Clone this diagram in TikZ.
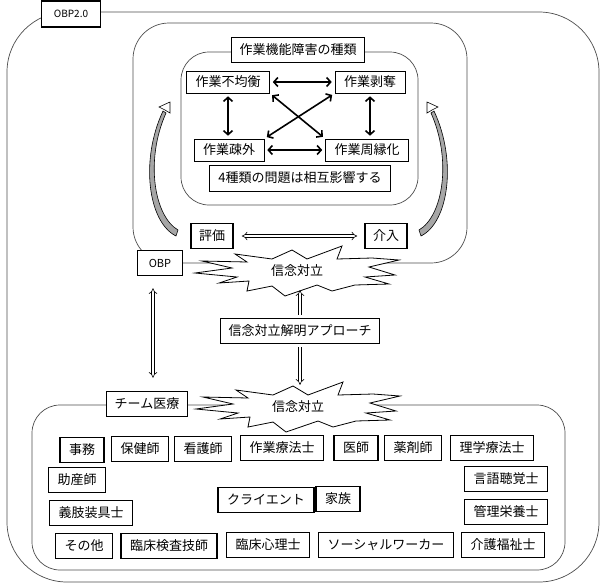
\documentclass[tikz,border=0pt]{standalone}
\usepackage{fontspec}
\newfontfamily\jp{Noto Sans CJK JP}
\usetikzlibrary{arrows.meta}
\newcommand{\burstpath}{(-102,2) -- (-65,-3) -- (-95,-10) -- (-50,-9) -- (-62,-17) -- (-25,-12)
  -- (-5,-21) -- (10,-12) -- (45,-25) -- (40,-12) -- (75,-13) -- (102,-11) -- (72,-4)
  -- (98,4) -- (68,6) -- (92,13) -- (58,14) -- (35,20) -- (20,14) -- (-12,25) -- (-25,15)
  -- (-50,20) -- (-48,10) -- (-78,12) -- (-60,6) -- cycle}
\newcommand{\swirlarrow}[1]{%
  \draw[swirl,#1] (176,236) .. controls (148,222) and (140,160) .. (163,111)
    -- (166,113) .. controls (145,160) and (154,216) .. (178,230) -- cycle;
  \draw[line width=0.6pt, fill=white, #1] (170,102) -- (170,113) -- (165,110) -- (159,107) -- cycle;}

\begin{document}
\begin{tikzpicture}[x=1pt,y=-1pt,
  every node/.style={font=\jp\fontsize{13}{15}\selectfont},
  panel/.style={draw=black!70, line width=0.7pt, rounded corners=#1},
  tag/.style={draw, line width=1.6pt, fill=white, inner xsep=8pt, minimum height=25pt},
  kind/.style={draw, line width=0.6pt, fill=white, inner xsep=9pt, minimum height=22pt},
  member/.style={draw, line width=1.6pt, fill=white, inner xsep=9pt, minimum height=25pt},
  burst/.style={draw, line width=0.8pt, fill=white},
  link/.style={line width=1.6pt, {Straight Barb[length=4pt,width=9pt]}-{Straight Barb[length=4pt,width=9pt]}, shorten <=3pt, shorten >=3pt},
  hollow/.style={double, double distance=2.4pt, line width=0.6pt, -{Implies}},
  swirl/.style={draw, line width=0.6pt, fill=black!35}]
\useasboundingbox (0,0) rectangle (604,584);
\draw[panel=60pt] (7,12) rectangle (599,582);
\draw[panel=36pt] (133,23) rectangle (467,263);
\draw[panel=28pt] (181,52) rectangle (418,205);
\draw[panel=28pt] (32,405) rectangle (565,570);
\swirlarrow{}
\swirlarrow{shift={(597,0)},xscale=-1}

\node[tag, font=\jp\fontsize{10}{12}\selectfont, minimum width=59pt, minimum height=26pt] (obp2) at (71,14) {OBP2.0};
\node[tag] (kinds) at (298,50) {作業機能障害の種類};
\node[kind] (imb) at (228,82) {作業不均衡};
\node[kind] (dep) at (370,82) {作業剥奪};
\node[kind] (ali) at (229,150) {作業疎外};
\node[kind] (mar) at (367,150) {作業周縁化};
\node[kind, minimum height=26pt] (note) at (300,178) {4種類の問題は相互影響する};
\draw[link] (imb) -- (dep);
\draw[link] (ali) -- (mar);
\draw[link] (imb.south) -- (imb.south |- ali.north);
\draw[link] (dep.south) -- (dep.south |- mar.north);
\draw[link] (imb.south east) -- (mar.north west);
\draw[link] (ali.north east) -- (dep.south west);

\node[tag] (eval) at (212,236) {評価};
\node[tag] (intv) at (386,236) {介入};
\draw[hollow, {Implies}-{Implies}, shorten <=8pt, shorten >=7pt] (eval) -- (intv);
\node[tag, font=\jp\fontsize{11}{13}\selectfont, minimum width=45pt] (obp) at (160,263) {OBP};

\draw[burst, shift={(297,271)}] \burstpath;
\node[minimum width=190pt, minimum height=38pt] (c1) at (297,271) {信念対立};
\node[tag] (appr) at (300,331) {信念対立解明アプローチ};
\draw[hollow, shorten <=3pt] (appr.north) -- (appr.north |- c1.south);
\draw[burst, shift={(298,407)}] \burstpath;
\node[minimum width=190pt, minimum height=38pt] (c2) at (298,407) {信念対立};
\draw[hollow, shorten <=3pt, shorten >=3pt] (appr.south) -- (appr.south |- c2.north);
\node[tag] (team) at (147,404) {チーム医療};
\draw[hollow, {Implies}-{Implies}, shorten <=12pt, shorten >=13pt] ([xshift=-7pt]obp.south) -- ([xshift=-7pt]obp.south |- team.north);

\node[member] (office) at (82,450) {事務};
\node[member] (phn) at (140,449) {保健師};
\node[member] (nurse) at (203,449) {看護師};
\node[member] (ot) at (282,448) {作業療法士};
\node[member] (dr) at (356,448) {医師};
\node[member] (pharm) at (413,448) {薬剤師};
\node[member] (pt) at (492,448) {理学療法士};
\node[member] (mw) at (77,480) {助産師};
\node[member] (st) at (506,479) {言語聴覚士};
\node[member] (client) at (266,500) {クライエント};
\node[member] (family) at (338,499) {家族};
\node[member] (po) at (91,513) {義肢装具士};
\node[member] (rd) at (506,512) {管理栄養士};
\node[member] (other) at (84,546) {その他};
\node[member] (mt) at (169,546) {臨床検査技師};
\node[member] (cp) at (268,545) {臨床心理士};
\node[member] (msw) at (386,545) {ソーシャルワーカー};
\node[member] (cw) at (503,545) {介護福祉士};
\end{tikzpicture}
\end{document}
